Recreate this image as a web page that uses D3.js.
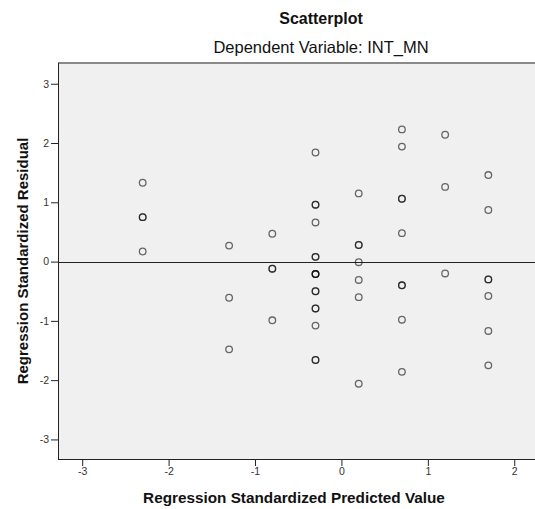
<!DOCTYPE html>
<html>
<head>
<meta charset="utf-8">
<script src="https://cdn.jsdelivr.net/npm/d3@7"></script>
<style>
  html, body { margin: 0; padding: 0; background: #fff; }
  svg { display: block; }
</style>
</head>
<body>
<div id="chart"></div>
<script>
// Data (x = standardized predicted value, y = standardized residual)
const predicted = [
  -2.3, -2.3, -2.3, -2.3,
  -1.3, -1.3, -1.3,
  -0.8, -0.8, -0.8, -0.8,
  -0.3, -0.3, -0.3, -0.3, -0.3, -0.3, -0.3, -0.3,
  -0.3, -0.3, -0.3, -0.3, -0.3, -0.3, -0.3, -0.3,
  0.2, 0.2, 0.2, 0.2, 0.2, 0.2, 0.2,
  0.7, 0.7, 0.7, 0.7, 0.7, 0.7, 0.7, 0.7, 0.7,
  1.2, 1.2, 1.2,
  1.7, 1.7, 1.7, 1.7, 1.7, 1.7, 1.7
];
const residual = [
  1.33, 0.75, 0.75, 0.17,
  0.27, -0.61, -1.48,
  0.47, -0.12, -0.12, -0.99,
  1.84, 0.96, 0.96, 0.66, 0.08, 0.08, -0.21, -0.21,
  -0.21, -0.50, -0.50, -0.79, -0.79, -1.08, -1.66, -1.66,
  1.15, 0.28, 0.28, -0.01, -0.31, -0.60, -2.06,
  2.23, 1.94, 1.06, 1.06, 0.48, -0.40, -0.40, -0.98, -1.86,
  2.14, 1.26, -0.20,
  1.46, 0.87, -0.30, -0.30, -0.58, -1.17, -1.75
];
const xTicks = [-3, -2, -1, 0, 1, 2];
const yTicks = [-3, -2, -1, 0, 1, 2, 3];
const titleText = "Scatterplot";
const subtitleText = "Dependent Variable: INT_MN";
const xLabel = "Regression Standardized Predicted Value";
const yLabel = "Regression Standardized Residual";

const W = 535, H = 509;
const plot = { left: 58, right: 535, top: 63, bottom: 459 };
const FONT = "'Liberation Sans', Arial, sans-serif";

const svg = d3.select("#chart").append("svg")
  .attr("width", W).attr("height", H)
  .style("font-family", FONT);

const x = d3.scaleLinear().domain([-3.28, 2.24]).range([plot.left, plot.right]);
const y = d3.scaleLinear().domain([-3.33, 3.35]).range([plot.bottom, plot.top]);

// plot background
svg.append("rect")
  .attr("x", plot.left).attr("y", plot.top)
  .attr("width", plot.right - plot.left).attr("height", plot.bottom - plot.top)
  .attr("fill", "#f0f0f0");

// top frame line
svg.append("line")
  .attr("x1", plot.left).attr("x2", plot.right)
  .attr("y1", plot.top).attr("y2", plot.top)
  .attr("stroke", "#8a8a8a").attr("stroke-width", 2);

// zero reference line
svg.append("line")
  .attr("x1", plot.left).attr("x2", plot.right)
  .attr("y1", Math.round(y(0)) + 0.5).attr("y2", Math.round(y(0)) + 0.5)
  .attr("stroke", "#222").attr("stroke-width", 1);

// points (duplicates overlap and darken, as in the original)
const n = Math.min(predicted.length, residual.length);
const pts = d3.range(n).map(i => ({ x: predicted[i], y: residual[i] }));
svg.append("g").selectAll("circle").data(pts).join("circle")
  .attr("cx", d => x(d.x)).attr("cy", d => y(d.y))
  .attr("r", 3.3)
  .attr("fill", "none")
  .attr("stroke", "#000")
  .attr("stroke-opacity", 0.58)
  .attr("stroke-width", 1.3);

// axes
const fmt = d => String(d);
const xAxis = svg.append("g")
  .attr("transform", `translate(0,${plot.bottom})`)
  .call(d3.axisBottom(x).tickValues(xTicks).tickFormat(fmt).tickSize(7).tickPadding(2).tickSizeOuter(0));
const yAxis = svg.append("g")
  .attr("transform", `translate(${plot.left},0)`)
  .call(d3.axisLeft(y).tickValues(yTicks).tickFormat(fmt).tickSize(7).tickPadding(2).tickSizeOuter(0));

[xAxis, yAxis].forEach(g => {
  g.select(".domain").attr("stroke", "#222");
  g.selectAll(".tick line").attr("stroke", "#222");
  g.selectAll(".tick text").attr("fill", "#333")
    .style("font-size", "10.5px")
    .style("font-family", FONT);
});
xAxis.select(".domain").attr("d", `M${plot.left},0.5H${plot.right}`);
yAxis.select(".domain").attr("d", `M0.5,${plot.top}V${plot.bottom}`);

// titles
svg.append("text")
  .attr("x", 321).attr("y", 24)
  .attr("text-anchor", "middle")
  .style("font-size", "16px").style("font-weight", "bold")
  .attr("fill", "#111")
  .text(titleText);
svg.append("text")
  .attr("x", 321).attr("y", 53)
  .attr("text-anchor", "middle")
  .style("font-size", "16.5px")
  .attr("fill", "#111")
  .text(subtitleText);

// axis labels
svg.append("text")
  .attr("x", 294).attr("y", 503)
  .attr("text-anchor", "middle")
  .style("font-size", "15.3px").style("font-weight", "bold")
  .attr("fill", "#111")
  .text(xLabel);
svg.append("text")
  .attr("transform", `translate(28,261) rotate(-90)`)
  .attr("text-anchor", "middle")
  .style("font-size", "15px").style("font-weight", "bold")
  .attr("fill", "#111")
  .text(yLabel);
</script>
</body>
</html>
